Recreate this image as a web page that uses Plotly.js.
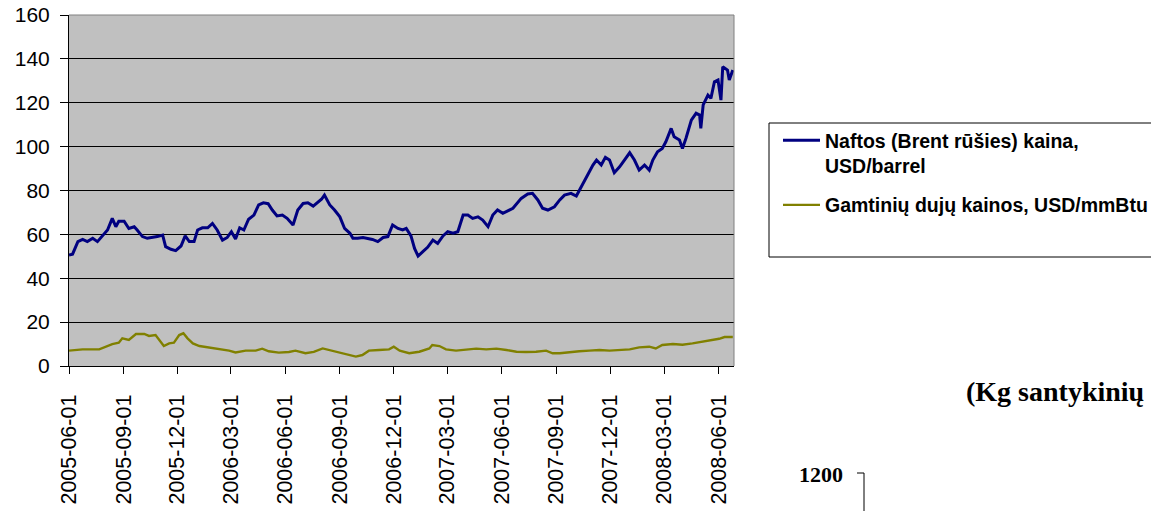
<!DOCTYPE html>
<html>
<head>
<meta charset="utf-8">
<script src="https://cdn.plot.ly/plotly-3.0.1.min.js"></script>
<style>html,body{margin:0;padding:0;background:#fff;}#chart{width:1151px;height:511px;}</style>
</head>
<body>
<div id="chart"></div>
<script>
var oilName = "Naftos (Brent rūšies) kaina,<br>USD/barrel";
var gasName = "Gamtinių dujų kainos, USD/mmBtu";

var oilDates = ["2005-06-01","2005-06-07","2005-06-16","2005-06-24","2005-07-02","2005-07-11","2005-07-19","2005-07-27","2005-08-05","2005-08-13","2005-08-19","2005-08-24","2005-09-02","2005-09-10","2005-09-19","2005-09-24","2005-10-03","2005-10-11","2005-10-20","2005-10-28","2005-11-06","2005-11-11","2005-11-20","2005-11-28","2005-12-07","2005-12-14","2005-12-21","2005-12-29","2006-01-04","2006-01-12","2006-01-21","2006-01-29","2006-02-06","2006-02-15","2006-02-23","2006-03-02","2006-03-09","2006-03-16","2006-03-23","2006-03-31","2006-04-09","2006-04-17","2006-04-25","2006-05-03","2006-05-10","2006-05-18","2006-05-27","2006-06-04","2006-06-14","2006-06-22","2006-07-01","2006-07-09","2006-07-18","2006-07-26","2006-08-01","2006-08-06","2006-08-15","2006-08-23","2006-09-01","2006-09-09","2006-09-18","2006-09-23","2006-10-01","2006-10-10","2006-10-18","2006-10-26","2006-11-04","2006-11-13","2006-11-21","2006-11-29","2006-12-08","2006-12-16","2006-12-22","2006-12-30","2007-01-05","2007-01-11","2007-01-19","2007-01-27","2007-02-05","2007-02-13","2007-02-22","2007-03-02","2007-03-11","2007-03-19","2007-03-28","2007-04-05","2007-04-13","2007-04-22","2007-04-30","2007-05-09","2007-05-17","2007-05-25","2007-06-03","2007-06-11","2007-06-20","2007-07-04","2007-07-15","2007-07-23","2007-08-01","2007-08-09","2007-08-18","2007-08-29","2007-09-07","2007-09-15","2007-09-26","2007-10-05","2007-10-10","2007-10-16","2007-10-24","2007-11-02","2007-11-08","2007-11-16","2007-11-23","2007-11-30","2007-12-08","2007-12-17","2007-12-25","2008-01-03","2008-01-11","2008-01-19","2008-01-28","2008-02-05","2008-02-11","2008-02-19","2008-02-27","2008-03-04","2008-03-13","2008-03-18","2008-03-27","2008-04-01","2008-04-07","2008-04-16","2008-04-24","2008-04-30","2008-05-02","2008-05-06","2008-05-14","2008-05-19","2008-05-25","2008-05-31","2008-06-05","2008-06-08","2008-06-16","2008-06-19","2008-06-25"];
var oilValues = [50.6,51.0,56.7,57.7,56.7,58.2,56.7,59.3,62.0,67.3,63.5,66.0,66.0,62.7,63.5,62.0,59.0,58.2,58.6,59.0,59.7,54.4,53.2,52.6,54.7,59.3,56.7,56.7,62.0,63.0,63.0,65.0,62.0,57.4,58.6,61.2,57.9,63.0,62.0,66.9,68.8,73.4,74.4,74.0,71.1,68.4,68.8,67.3,64.3,71.1,74.1,74.4,72.9,74.9,76.0,77.9,73.4,71.1,68.0,62.7,60.5,58.2,58.2,58.6,58.2,57.7,56.7,58.6,59.0,64.3,62.7,62.0,62.7,59.3,53.6,50.1,52.1,54.1,57.4,55.9,59.3,61.2,60.5,61.2,68.8,68.8,67.3,68.0,66.5,63.5,68.8,71.1,69.6,70.8,71.9,76.4,78.4,78.7,75.7,71.9,71.1,72.6,75.7,77.9,78.7,77.5,80.2,83.2,87.1,91.6,93.9,91.6,95.1,93.9,88.1,90.8,93.9,97.2,93.9,89.3,91.6,89.3,93.9,97.7,99.2,102.2,108.3,104.5,103.0,99.2,103.8,112.1,115.2,114.4,108.3,119.0,123.5,122.0,129.6,130.4,121.2,136.4,134.9,130.4,134.9];

var gasDates = ["2005-06-01","2005-06-24","2005-07-22","2005-08-02","2005-08-13","2005-08-24","2005-08-30","2005-09-10","2005-09-22","2005-10-06","2005-10-14","2005-10-25","2005-11-03","2005-11-08","2005-11-17","2005-11-25","2005-12-04","2005-12-11","2005-12-18","2005-12-27","2006-01-07","2006-01-23","2006-02-09","2006-02-26","2006-03-09","2006-03-26","2006-04-12","2006-04-23","2006-05-04","2006-05-21","2006-06-07","2006-06-18","2006-07-05","2006-07-19","2006-08-03","2006-08-14","2006-08-25","2006-09-11","2006-09-28","2006-10-09","2006-10-20","2006-11-06","2006-11-23","2006-12-01","2006-12-11","2006-12-27","2007-01-13","2007-01-30","2007-02-04","2007-02-16","2007-02-27","2007-03-16","2007-04-02","2007-04-19","2007-05-06","2007-05-23","2007-06-09","2007-06-26","2007-07-12","2007-07-29","2007-08-15","2007-08-26","2007-09-07","2007-09-23","2007-10-10","2007-10-27","2007-11-13","2007-11-30","2007-12-17","2008-01-03","2008-01-19","2008-02-05","2008-02-16","2008-02-27","2008-03-16","2008-04-01","2008-04-18","2008-05-05","2008-05-22","2008-06-02","2008-06-11","2008-06-25"];
var gasValues = [7.0,7.6,7.6,8.8,10.0,10.6,12.6,11.9,14.6,14.6,13.7,14.1,11.1,9.1,10.3,10.6,14.1,14.9,12.6,10.3,9.1,8.5,7.6,7.0,6.2,7.0,7.0,7.9,6.7,6.1,6.4,7.0,5.8,6.4,8.0,7.3,6.5,5.5,4.3,5.0,7.0,7.3,7.6,8.8,7.0,5.8,6.5,8.0,9.6,9.1,7.6,7.0,7.6,7.9,7.6,7.9,7.3,6.5,6.4,6.5,7.0,5.8,5.8,6.4,6.7,7.0,7.3,7.0,7.3,7.6,8.5,8.8,8.0,9.6,10.0,9.7,10.3,11.1,11.6,12.4,13.2,13.2];

var tickDates = ["2005-06-01","2005-09-01","2005-12-01","2006-03-01","2006-06-01","2006-09-01","2006-12-01","2007-03-01","2007-06-01","2007-09-01","2007-12-01","2008-03-01","2008-06-01"];
var yTicks = [0,20,40,60,80,100,120,140,160];

var traces = [
  {x: oilDates, y: oilValues, type: "scatter", mode: "lines", name: oilName,
   line: {color: "#000080", width: 3}, legendgroup: "a"},
  {x: gasDates, y: gasValues, type: "scatter", mode: "lines", name: gasName,
   line: {color: "#808000", width: 2.4}, legendgroup: "b"}
];

var W = 665, H = 351, L = 69, T = 15;
function px(x){ return (x - L) / W; }
function py(y){ return (T + H - y) / H; }

var layout = {
  width: 1151, height: 511,
  margin: {l: 69, r: 417, t: 15, b: 145, pad: 0, autoexpand: false},
  paper_bgcolor: "#ffffff",
  plot_bgcolor: "#C0C0C0",
  font: {family: "Arial, Liberation Sans, sans-serif", color: "#000"},
  showlegend: true,
  legend: {
    x: px(778), y: py(121), xanchor: "left", yanchor: "top",
    bgcolor: "rgba(0,0,0,0)", borderwidth: 0,
    font: {family: "Arial, Liberation Sans, sans-serif", size: 19.5, color: "#000", weight: "bold"},
    valign: "top", tracegroupgap: 11, itemwidth: 37
  },
  xaxis: {
    type: "date",
    range: ["2005-06-01", "2008-06-27"],
    tickmode: "array", tickvals: tickDates, ticktext: tickDates,
    tickangle: -90,
    ticks: "outside", ticklen: 7, tickcolor: "#000", tickwidth: 1,
    tickfont: {size: 21.5, color: "#000"},
    ticklabelstandoff: 12,
    showgrid: false, zeroline: false,
    showline: true, linecolor: "#000", linewidth: 1,
    automargin: false,
    fixedrange: true
  },
  yaxis: {
    range: [0, 160],
    tickmode: "array", tickvals: yTicks,
    ticks: "outside", ticklen: 8, tickcolor: "#000", tickwidth: 1,
    tickfont: {size: 21, color: "#000"},
    showgrid: true, gridcolor: "#000", gridwidth: 1,
    zeroline: false,
    showline: true, linecolor: "#000", linewidth: 1,
    ticklabelstandoff: 6,
    automargin: false,
    fixedrange: true
  },
  shapes: [
    {type: "line", xref: "paper", yref: "paper", x0: 0, x1: 1, y0: 1, y1: 1,
     line: {color: "#808080", width: 1}, layer: "above"},
    {type: "line", xref: "paper", yref: "paper", x0: 1, x1: 1, y0: 0, y1: 1,
     line: {color: "#808080", width: 1}, layer: "above"},
    {type: "rect", xref: "paper", yref: "paper", x0: px(769), x1: px(1160), y0: py(123), y1: py(257),
     line: {color: "#000", width: 1}, fillcolor: "rgba(0,0,0,0)", layer: "above"},
    {type: "line", xref: "paper", yref: "paper", x0: px(857), x1: px(864), y0: py(473), y1: py(473),
     line: {color: "#000", width: 1}},
    {type: "line", xref: "paper", yref: "paper", x0: px(864), x1: px(864), y0: py(473), y1: py(515),
     line: {color: "#000", width: 1}}
  ],
  annotations: [
    {text: "(Kg santykinių", xref: "paper", yref: "paper", x: px(964), y: py(391),
     xanchor: "left", yanchor: "middle", showarrow: false,
     font: {family: "Liberation Serif, DejaVu Serif, serif", size: 28, color: "#000", weight: "bold"}},
    {text: "1200", xref: "paper", yref: "paper", x: px(845), y: py(474),
     xanchor: "right", yanchor: "middle", showarrow: false,
     font: {family: "Liberation Serif, DejaVu Serif, serif", size: 22, color: "#000", weight: "bold"}}
  ]
};

Plotly.newPlot("chart", traces, layout, {displayModeBar: false, staticPlot: true});
</script>
</body>
</html>
